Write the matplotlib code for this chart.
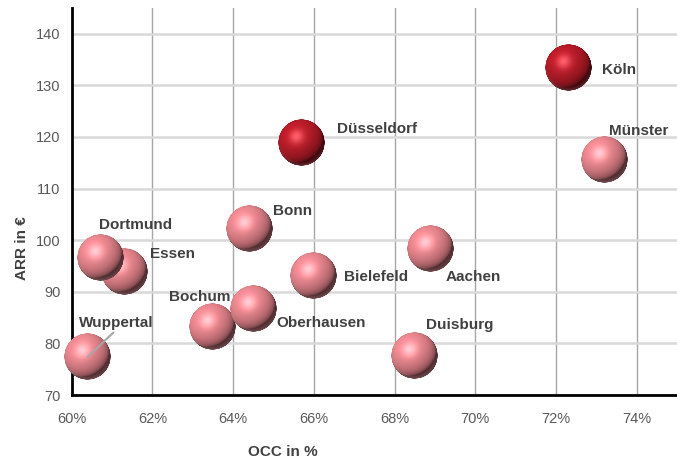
import matplotlib
matplotlib.use("Agg")
import matplotlib.pyplot as plt
import numpy as np
from matplotlib.offsetbox import OffsetImage, AnnotationBbox
from matplotlib.ticker import FuncFormatter, MultipleLocator

# data: occupancy (%) and average room rate (EUR)
cities = ['Köln', 'Düsseldorf', 'Münster', 'Bonn', 'Dortmund', 'Essen',
          'Bielefeld', 'Aachen', 'Bochum', 'Oberhausen', 'Wuppertal', 'Duisburg']
occ = [72.3, 65.7, 73.2, 64.4, 60.7, 61.3, 66.0, 68.9, 63.5, 64.5, 60.4, 68.5]
arr = [133.4, 118.9, 115.7, 102.2, 96.6, 94.0, 93.1, 98.4, 83.3, 86.7, 77.4, 77.6]
highlight = ['Köln', 'Düsseldorf']

# label offsets in pixels (dx, dy) from bubble centre
offsets = {'Köln': (34, -2), 'Düsseldorf': (35, 14), 'Münster': (5, 28),
           'Bonn': (24, 18), 'Dortmund': (-1, 33), 'Essen': (26, 17),
           'Bielefeld': (30, -1), 'Aachen': (15, -29), 'Bochum': (-44, 29),
           'Oberhausen': (23, -14), 'Wuppertal': (-9, 34), 'Duisburg': (11, 31)}

narrow = ['Liberation Sans Narrow', 'Liberation Sans', 'DejaVu Sans']
bold = ['Liberation Sans', 'DejaVu Sans']


def sphere(base, n=160):
    base = np.array(matplotlib.colors.to_rgb(base))
    u, v = np.meshgrid(np.linspace(-1, 1, n), np.linspace(1, -1, n))
    r2 = u ** 2 + v ** 2
    z = np.sqrt(np.clip(1 - r2, 0, 1))
    L = np.array([-0.4, 0.5, 0.77])
    L = L / np.linalg.norm(L)
    diff = np.clip(u * L[0] + v * L[1] + z * L[2], 0, 1)
    H = L + np.array([0, 0, 1.0])
    H = H / np.linalg.norm(H)
    spec = np.clip(u * H[0] + v * H[1] + z * H[2], 0, 1) ** 20
    # soft bounce light at the bottom rim
    rim = np.clip(-v, 0, 1) * np.clip(np.sqrt(r2) - 0.82, 0, 1) * 2.2
    shade = 0.35 + 0.72 * np.sqrt(diff)
    col = base[None, None, :] * shade[..., None]
    col += 0.25 * spec[..., None]
    col += rim[..., None] * (np.array([1, 0.8, 0.82]) - col) * 0.5
    col = np.clip(col, 0, 1)
    alpha = np.clip((1 - np.sqrt(r2)) * n / 2, 0, 1)
    return np.dstack([col, alpha])


pink_img = sphere('#e8868e')
red_img = sphere('#b81c28')

fig = plt.figure(figsize=(6.77, 4.62), dpi=100)
ax = fig.add_axes([0.106, 0.145, 0.894, 0.838])
ax.set_xlim(60, 75)
ax.set_ylim(70, 145)

ax.xaxis.set_major_locator(MultipleLocator(2))
ax.xaxis.set_major_formatter(FuncFormatter(lambda x, p: '%d%%' % round(x)))
ax.set_yticks([70, 80, 90, 100, 110, 120, 130, 140])
ax.tick_params(length=0, labelsize=10.5, labelcolor='#595959')
ax.tick_params(axis='x', pad=12)
ax.tick_params(axis='y', pad=8)
for lab in ax.get_xticklabels() + ax.get_yticklabels():
    lab.set_family(narrow)

ax.grid(axis='y', color='#d9d9d9', lw=1.8, zorder=0)
ax.grid(axis='x', color='#a6a6a6', lw=1.0, zorder=0)
ax.set_axisbelow(True)
for s in ['top', 'right']:
    ax.spines[s].set_visible(False)
for s in ['left', 'bottom']:
    ax.spines[s].set_linewidth(2)
    ax.spines[s].set_color('black')

n_px = pink_img.shape[0]
zoom = 47 * 72 / (100 * n_px)
order = list(range(len(cities)))
# draw Essen before Dortmund so Dortmund sits in front
order.sort(key=lambda i: {'Essen': 0}.get(cities[i], 1))
for i in order:
    img = red_img if cities[i] in highlight else pink_img
    ab = AnnotationBbox(OffsetImage(img, zoom=zoom), (occ[i], arr[i]),
                        frameon=False, annotation_clip=False, zorder=3)
    ax.add_artist(ab)

for i, c in enumerate(cities):
    dx, dy = offsets[c]
    kw = {}
    if c == 'Wuppertal':
        kw = dict(arrowprops=dict(arrowstyle='-', color='#a6a6a6', lw=1.5,
                                  shrinkA=0, shrinkB=0, relpos=(0.5, 0)))
    ax.annotate(c, (occ[i], arr[i]), xytext=(dx, dy), textcoords='offset pixels',
                ha='left', va='center', fontsize=11, fontweight='bold',
                color='#404040', family=bold, zorder=5, annotation_clip=False, **kw)

ax.set_xlabel('OCC in %', fontsize=11, fontweight='bold', color='#404040',
              family=bold, labelpad=14, x=0.349)
ax.set_ylabel('ARR in €', fontsize=11, fontweight='bold', color='#404040',
              family=bold, labelpad=5, y=0.38)

fig.savefig('out.png', dpi=100)
